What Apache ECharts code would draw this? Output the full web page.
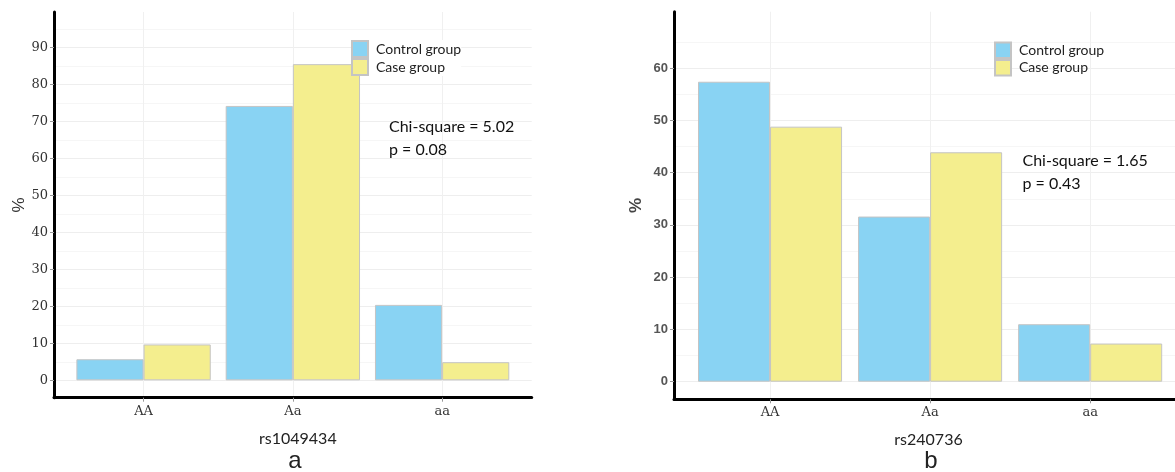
<!DOCTYPE html>
<html>
<head>
<meta charset="utf-8">
<script src="https://cdn.jsdelivr.net/npm/echarts@6/dist/echarts.min.js"></script>
<style>
html,body{margin:0;padding:0;background:#fff;}
#c{width:1175px;height:472px;}
</style>
</head>
<body>
<div id="c"></div>
<script>
// ---- data ----
const categories = ['AA', 'Aa', 'aa'];
const seriesNames = ['Control group', 'Case group'];
const controlA = [5.7, 74.2, 20.4];
const caseA = [9.7, 85.5, 4.9];
const controlB = [57.4, 31.6, 11.0];
const caseB = [48.8, 43.9, 7.3];
const yTicksA = [0, 10, 20, 30, 40, 50, 60, 70, 80, 90];
const yTicksB = [0, 10, 20, 30, 40, 50, 60];
const snpA = 'rs1049434';
const snpB = 'rs240736';
const statA = ['Chi-square = 5.02', 'p = 0.08'];
const statB = ['Chi-square = 1.65', 'p = 0.43'];
const panelLabels = ['a', 'b'];

const catPos = categories.map((c, i) => i + 1);
const toPts = arr => arr.map((v, i) => [catPos[i], v]);

const colControl = '#89D3F3';
const colCase = '#F4EE8E';
const calib = 'Lato, "Open Sans", sans-serif';

function xAxisFor(grid, max, name, nameGap, namePad) {
  return {
    type: 'value', gridIndex: grid, min: 0.4, max: max,
    name: name, nameLocation: 'middle', nameGap: nameGap,
    nameTextStyle: { fontFamily: calib, fontSize: 16, color: '#222', padding: namePad },
    axisLine: { show: true, onZero: false, lineStyle: { color: '#000', width: 3 } },
    axisTick: { show: true, length: 4, customValues: catPos, lineStyle: { color: '#999' } },
    axisLabel: { customValues: catPos, formatter: v => categories[Math.round(v) - 1],
      fontFamily: '"DejaVu Serif", serif', fontSize: 13, color: '#333', margin: 7 },
    splitLine: { show: true, lineStyle: { color: '#f0f0f0', width: 1 } },
    minorSplitLine: { show: false }
  };
}
function yAxisFor(grid, min, max, ticks, splitNumber, nameGap, labelStyle) {
  return {
    type: 'value', gridIndex: grid, min: min, max: max, splitNumber: splitNumber,
    name: '%', nameLocation: 'middle', nameRotate: 90, nameGap: nameGap,
    nameTextStyle: Object.assign({ fontSize: 17, color: '#333' }, labelStyle.name),
    axisLine: { show: true, onZero: false, lineStyle: { color: '#000', width: 3 } },
    axisTick: { show: true, length: 4, customValues: ticks, lineStyle: { color: '#999' } },
    axisLabel: Object.assign({ customValues: ticks, margin: 6 }, labelStyle.label),
    splitLine: { show: true, lineStyle: { color: '#eeeeee', width: 1 } },
    minorTick: { show: false, splitNumber: 2 },
    minorSplitLine: { show: true, lineStyle: { color: '#f6f6f6', width: 1 } }
  };
}
function barSeries(name, data, xi, yi, color) {
  return {
    type: 'bar', name: name, xAxisIndex: xi, yAxisIndex: yi,
    data: toPts(data), barWidth: '45%', barGap: '0%',
    itemStyle: { color: color, borderColor: '#c4c4c4', borderWidth: 1 },
    emphasis: { disabled: true }, animation: false
  };
}

const chart = echarts.init(document.getElementById('c'), null, { renderer: 'canvas' });
chart.setOption({
  backgroundColor: '#fff',
  animation: false,
  grid: [
    { left: 54, top: 12, right: 643.3, bottom: 74.3, containLabel: false },
    { left: 674, top: 11.7, right: 0, bottom: 72.7, containLabel: false }
  ],
  xAxis: [
    xAxisFor(0, 3.6, snpA, 33, [0, 0, 0, 10]),
    xAxisFor(1, 3.53, snpB, 33, [0, 0, 0, 8])
  ],
  yAxis: [
    yAxisFor(0, -4.7, 99.6, yTicksA, 10, 25, {
      name: { fontFamily: 'Liberation Sans, sans-serif' },
      label: { fontFamily: '"DejaVu Serif", serif', fontSize: 13, color: '#333' } }),
    yAxisFor(1, -3.37, 70.8, yTicksB, 7, 29, {
      name: { fontFamily: 'Liberation Sans, sans-serif', fontWeight: 'bold', color: '#444' },
      label: { fontFamily: 'Liberation Sans, sans-serif', fontSize: 13, fontWeight: 'bold', color: '#555' } })
  ],
  legend: [
    { data: seriesNames, orient: 'vertical', left: 351, top: 40, itemWidth: 16, itemHeight: 16, itemGap: 0,
      icon: 'rect', selectedMode: false, padding: 0, backgroundColor: '#fff', z: 10,
      textStyle: { fontFamily: calib, fontSize: 14, color: '#222', padding: [0, 0, 0, 3] } },
    { data: seriesNames, orient: 'vertical', left: 994, top: 41.5, itemWidth: 16, itemHeight: 15.5, itemGap: 0,
      icon: 'rect', selectedMode: false, padding: 0, z: 10,
      textStyle: { fontFamily: calib, fontSize: 14, color: '#222', padding: [0, 0, 0, 3] } }
  ],
  series: [
    barSeries(seriesNames[0], controlA, 0, 0, colControl),
    barSeries(seriesNames[1], caseA, 0, 0, colCase),
    barSeries(seriesNames[0], controlB, 1, 1, colControl),
    barSeries(seriesNames[1], caseB, 1, 1, colCase)
  ],
  graphic: [
    { type: 'text', z: 100, x: 389, y: 127, style: { text: statA[0], font: '16px ' + calib, fill: '#111', verticalAlign: 'middle' } },
    { type: 'text', z: 100, x: 389, y: 149.5, style: { text: statA[1], font: '16px ' + calib, fill: '#111', verticalAlign: 'middle' } },
    { type: 'text', z: 100, x: 1022.5, y: 161, style: { text: statB[0], font: '16px ' + calib, fill: '#111', verticalAlign: 'middle' } },
    { type: 'text', z: 100, x: 1022.5, y: 183.5, style: { text: statB[1], font: '16px ' + calib, fill: '#111', verticalAlign: 'middle' } },
    { type: 'text', z: 100, x: 295, y: 461, style: { text: panelLabels[0], font: '24px "Liberation Sans", Arial, sans-serif', fill: '#222', align: 'center', verticalAlign: 'middle' } },
    { type: 'text', z: 100, x: 931, y: 461, style: { text: panelLabels[1], font: '24px "Liberation Sans", Arial, sans-serif', fill: '#222', align: 'center', verticalAlign: 'middle' } }
  ]
});
</script>
</body>
</html>
